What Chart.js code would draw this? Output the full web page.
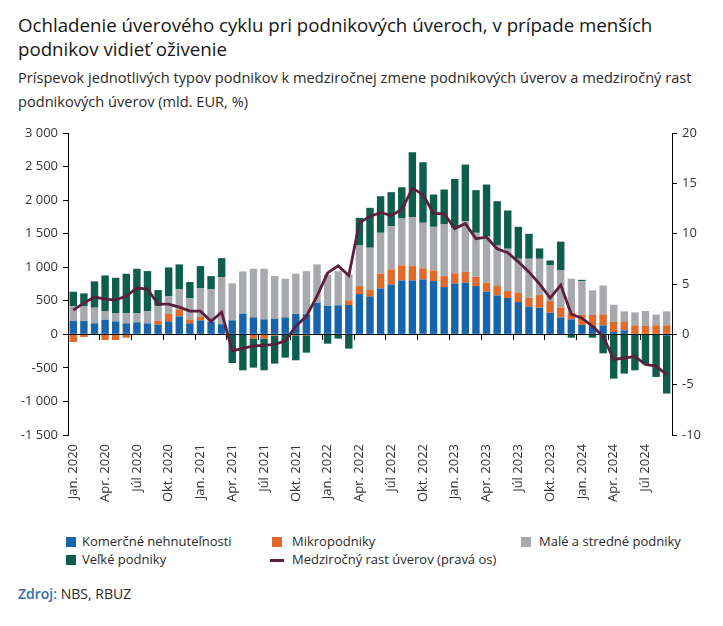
<!DOCTYPE html>
<html lang="sk">
<head>
<meta charset="utf-8">
<script src="https://cdn.jsdelivr.net/npm/chart.js@4.4.1/dist/chart.umd.min.js"></script>
<style>
  body { margin: 0; background: #fff; font-family: 'Open Sans', sans-serif; color: #222; }
  #page { position: relative; width: 723px; height: 626px; overflow: hidden; }
  #title { position: absolute; left: 18px; top: 13px; font-size: 18.7px; font-weight: 500; line-height: 24px; color: #161616; white-space: nowrap; }
  #subtitle { position: absolute; left: 18px; top: 65px; font-size: 14.6px; line-height: 24px; color: #2a2a2a; white-space: nowrap; }
  #wrap { position: absolute; left: 0; top: 118px; width: 723px; height: 400px; }
  .lg { position: absolute; font-size: 13px; color: #2a2a2a; white-space: nowrap; line-height: 16px; }
  .sq { position: absolute; width: 10px; height: 10px; }
  .ln { position: absolute; width: 14px; height: 3px; }
  #src { position: absolute; left: 18px; top: 584px; font-size: 14px; color: #2a2a2a; }
  #src b { color: #2e6db4; font-weight: 600; }
</style>
</head>
<body>
<div id="page">
  <div id="title">Ochladenie úverového cyklu pri podnikových úveroch, v prípade menších<br>podnikov vidieť oživenie</div>
  <div id="subtitle">Príspevok jednotlivých typov podnikov k medziročnej zmene podnikových úverov a medziročný rast<br>podnikových úverov (mld. EUR, %)</div>
  <div id="wrap"><canvas id="chart"></canvas></div>

  <div class="sq" style="left:66px;top:537px;background:#1764ab"></div>
  <div class="lg" style="left:82px;top:533px">Komerčné nehnuteľnosti</div>
  <div class="sq" style="left:272px;top:537px;background:#e0692b"></div>
  <div class="lg" style="left:292px;top:533px">Mikropodniky</div>
  <div class="sq" style="left:521px;top:537px;background:#a7a9ac"></div>
  <div class="lg" style="left:539px;top:533px">Malé a stredné podniky</div>
  <div class="sq" style="left:66px;top:555px;background:#0e5e4e"></div>
  <div class="lg" style="left:82px;top:551px">Veľké podniky</div>
  <div class="ln" style="left:270px;top:559px;background:#5c1f3d"></div>
  <div class="lg" style="left:292px;top:551px">Medziročný rast úverov (pravá os)</div>

  <div id="src"><b>Zdroj:</b> NBS, RBUZ</div>
</div>

<script>
// months Jan 2020 - Sep 2024
const months = [
  'Jan. 2020','Feb. 2020','Mar. 2020','Apr. 2020','Máj 2020','Jún 2020','Júl 2020','Aug. 2020','Sep. 2020','Okt. 2020','Nov. 2020','Dec. 2020',
  'Jan. 2021','Feb. 2021','Mar. 2021','Apr. 2021','Máj 2021','Jún 2021','Júl 2021','Aug. 2021','Sep. 2021','Okt. 2021','Nov. 2021','Dec. 2021',
  'Jan. 2022','Feb. 2022','Mar. 2022','Apr. 2022','Máj 2022','Jún 2022','Júl 2022','Aug. 2022','Sep. 2022','Okt. 2022','Nov. 2022','Dec. 2022',
  'Jan. 2023','Feb. 2023','Mar. 2023','Apr. 2023','Máj 2023','Jún 2023','Júl 2023','Aug. 2023','Sep. 2023','Okt. 2023','Nov. 2023','Dec. 2023',
  'Jan. 2024','Feb. 2024','Mar. 2024','Apr. 2024','Máj 2024','Jún 2024','Júl 2024','Aug. 2024','Sep. 2024'
];

// contributions, mil. EUR
const komercne = [198,198,164,218,193,164,179,164,144,193,268,164,
  208,188,150,208,308,253,223,233,253,302,300,471,
  422,432,437,600,565,684,744,803,803,818,794,704,
  759,769,719,635,580,541,481,412,397,322,250,223,
  140,124,134,35,60,0,0,0,-20];
const mikro = [-114,-40,0,-84,-84,-50,-5,0,59,109,104,59,
  50,-10,0,0,0,-60,-60,-20,0,-15,-15,0,
  0,0,69,119,95,219,223,224,214,164,158,164,
  149,163,139,134,139,104,139,134,188,174,149,99,
  150,164,164,149,133,134,124,134,134];
const maleStredne = [223,223,233,129,119,148,133,178,218,268,298,313,
  426,482,703,551,629,724,754,635,575,601,642,571,
  471,510,387,605,630,610,645,699,729,680,650,769,
  679,754,655,694,605,630,506,580,541,531,560,506,
  502,367,431,257,149,193,223,159,208];
const velke = [214,189,392,531,531,591,665,600,239,427,372,243,
  333,198,283,-427,-536,-436,-476,-416,-347,-372,-258,0,
  -139,-64,-213,412,595,545,506,466,967,902,481,521,
  729,844,635,769,660,570,476,372,154,74,422,-50,
  20,-50,-283,-660,-585,-536,-446,-635,-863];
// year-on-year growth, % (right axis)
const rast = [2.4,3.1,3.7,3.5,3.4,3.8,4.6,4.5,3.0,3.0,2.7,2.3,
  2.3,1.3,2.2,-1.65,-1.4,-1.15,-1.1,-1.0,-0.65,0.8,1.8,3.8,
  6.1,6.8,5.85,11.1,11.7,12.1,11.8,12.4,14.5,13.9,12.0,12.0,
  10.5,11.0,9.5,9.65,8.5,8.1,7.2,6.2,5.0,3.6,4.9,2.0,
  1.6,0.8,-0.2,-2.5,-2.35,-2.2,-3.0,-3.15,-4.0];

const fontTick = { family: "'Open Sans', sans-serif", size: 13 };
const tickColor = '#333';

function fmt(v) {
  const s = String(Math.abs(v)).replace(/\B(?=(\d{3})+(?!\d))/g, ' ');
  return (v < 0 ? '-' : '') + s;
}

const ctx = document.getElementById('chart');

new Chart(ctx, {
  type: 'bar',
  data: {
    labels: months,
    datasets: [
      { type: 'line', label: 'Medziročný rast úverov (pravá os)', data: rast, yAxisID: 'y1',
        borderColor: '#5c1f3d', borderWidth: 2.8, pointRadius: 0, tension: 0, order: 0 },
      { label: 'Komerčné nehnuteľnosti', data: komercne, backgroundColor: '#1764ab', yAxisID: 'y', order: 1 },
      { label: 'Mikropodniky', data: mikro, backgroundColor: '#e0692b', yAxisID: 'y', order: 1 },
      { label: 'Malé a stredné podniky', data: maleStredne, backgroundColor: '#a7a9ac', yAxisID: 'y', order: 1 },
      { label: 'Veľké podniky', data: velke, backgroundColor: '#0e5e4e', yAxisID: 'y', order: 1 }
    ]
  },
  options: {
    responsive: true,
    maintainAspectRatio: false,
    animation: false,
    devicePixelRatio: 1,
    layout: { padding: { top: 15, left: 0, right: 0, bottom: 0 } },
    datasets: { bar: { barPercentage: 0.7, categoryPercentage: 1 } },
    plugins: { legend: { display: false }, tooltip: { enabled: false } },
    scales: {
      x: {
        stacked: true,
        grid: { display: false, drawTicks: false },
        border: { display: false },
        ticks: {
          autoSkip: false, maxRotation: 90, minRotation: 90, padding: 9,
          font: fontTick, color: tickColor,
          callback: (v, i) => (i % 3 === 0 ? months[i] : '')
        },
        afterFit: s => { s.height = 83; }
      },
      // zero line with tick marks every quarter
      x2: {
        type: 'category', axis: 'x', position: { y: 0 }, labels: months, offset: true,
        grid: {
          offset: true, drawOnChartArea: false, drawTicks: true, tickLength: 5,
          color: c => (c.index % 3 === 0 && c.index > 0 && c.index < months.length) ? '#000' : 'rgba(0,0,0,0)'
        },
        border: { display: true, color: '#000', width: 1 },
        ticks: { display: false },
        afterFit: s => { s.height = 0; }
      },
      y: {
        position: 'left', stacked: true, min: -1500, max: 3000,
        ticks: { stepSize: 500, font: fontTick, color: tickColor, padding: 5, callback: v => fmt(v) },
        grid: { drawOnChartArea: false, drawTicks: true, tickLength: 5, color: '#000' },
        border: { display: true, color: '#000' },
        afterFit: s => { s.width = 68; }
      },
      y1: {
        position: 'right', min: -10, max: 20,
        ticks: { stepSize: 5, font: fontTick, color: tickColor, padding: 5, callback: v => fmt(v) },
        grid: { drawOnChartArea: false, drawTicks: true, tickLength: 5, color: '#000' },
        border: { display: true, color: '#000' },
        afterFit: s => { s.width = 51; }
      }
    }
  }
});
</script>
</body>
</html>
